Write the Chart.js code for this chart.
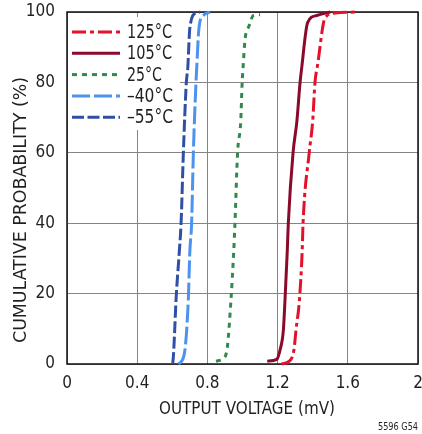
<!DOCTYPE html>
<html>
<head>
<meta charset="utf-8">
<script src="https://cdn.jsdelivr.net/npm/chart.js@4.4.1/dist/chart.umd.min.js"></script>
<style>
  html, body { margin: 0; padding: 0; background: #fff; }
  #wrap { position: relative; width: 422px; height: 434px; }
</style>
</head>
<body>
<div id="wrap"><canvas id="chart" width="422" height="434"></canvas></div>
<script>
// Кумулятивное распределение выходного напряжения по температурам
const seriesLabels = ['125°C', '105°C', '25°C', '–40°C', '–55°C'];
const seriesColors = ['#e5112b', '#8a0a2c', '#2f8a4c', '#4c92f0', '#3050a6'];
const seriesDashes = [[14, 4, 4, 4], [], [5, 5], [18, 4], [12, 3.5]];

// напряжение (мВ) и вероятность (%) для каждой кривой
const v125 = [1.223, 1.271, 1.293, 1.305, 1.324, 1.34, 1.345, 1.38, 1.40, 1.413, 1.428, 1.47, 1.527, 1.65];
const p125 = [0, 1, 4, 9.7, 18, 32, 40, 60, 69, 80, 85, 98.3, 99.7, 100];

const v105 = [1.141, 1.195, 1.214, 1.233, 1.242, 1.255, 1.261, 1.288, 1.31, 1.328, 1.337, 1.371, 1.423, 1.50];
const p105 = [0.8, 1.3, 4, 9.7, 18, 32, 40, 60, 69, 80, 84, 97, 99, 100];

const v25 = [0.849, 0.90, 0.915, 0.934, 0.95, 0.957, 0.972, 0.99, 0.998, 1.003, 1.014, 1.037, 1.062, 1.10];
const p25 = [0.8, 2, 5.4, 18, 32, 40, 60, 69, 80, 84, 92, 96, 99, 99.2];

const vM40 = [0.634, 0.667, 0.691, 0.70, 0.71, 0.72, 0.735, 0.739, 0.752, 0.777, 0.815];
const pM40 = [0, 2.5, 18, 32, 40, 60, 80, 84, 95.5, 99, 100];

const vM55 = [0.602, 0.606, 0.614, 0.621, 0.64, 0.65, 0.663, 0.68, 0.688, 0.70, 0.733, 0.758];
const pM55 = [0, 2, 10, 18, 32, 40, 60, 80, 84, 95.5, 99.7, 100];

const xTickLabels = ['0', '0.4', '0.8', '1.2', '1.6', '2'];
const yTickLabels = ['0', '20', '40', '60', '80', '100'];

const xTitle = 'OUTPUT VOLTAGE (mV)';
const yTitle = 'CUMULATIVE PROBABILITY (%)';
const footNote = '5596 G54';

const FONT = "'Liberation Sans Narrow', 'DejaVu Sans Condensed', 'Roboto Condensed', sans-serif";
const TEXT = '#231f20';

const toPoints = (vs, ps) => vs.map((v, i) => ({ x: v, y: ps[i] }));
const allV = [v125, v105, v25, vM40, vM55];
const allP = [p125, p105, p25, pM40, pM55];

const datasets = seriesLabels.map((label, i) => ({
  label,
  data: toPoints(allV[i], allP[i]),
  borderColor: seriesColors[i],
  backgroundColor: seriesColors[i],
  borderDash: seriesDashes[i],
  borderWidth: 3,
  pointRadius: 0,
  showLine: true,
  cubicInterpolationMode: 'monotone',
  clip: 6
}));

// текст, сжатый по ширине (в оригинале узкий шрифт)
function fitText(ctx, text, x, y, width, align) {
  const w = ctx.measureText(text).width;
  const k = width / w;
  ctx.save();
  ctx.translate(x, y);
  ctx.scale(k, 1);
  ctx.textAlign = align;
  ctx.fillText(text, 0, 0);
  ctx.restore();
}

// легенда, рамка и подписи осей — своим плагином
const decorPlugin = {
  id: 'decor',
  beforeDatasetsDraw(chart) {
    const { ctx, chartArea: a } = chart;
    ctx.save();
    // белая подложка легенды
    ctx.fillStyle = '#fff';
    ctx.fillRect(a.left + 1, 17, 112, 113);
    // рамка графика
    ctx.strokeStyle = '#111';
    ctx.lineWidth = 1.5;
    ctx.strokeRect(a.left, a.top, a.right - a.left, a.bottom - a.top);
    // легенда
    const widths = [45, 45, 35, 46, 46];
    chart.data.datasets.forEach((ds, i) => {
      const y = 32 + i * 21.3;
      ctx.beginPath();
      ctx.setLineDash(ds.borderDash);
      ctx.lineDashOffset = 0;
      ctx.strokeStyle = ds.borderColor;
      ctx.lineWidth = 3;
      ctx.moveTo(72, y);
      ctx.lineTo(120, y);
      ctx.stroke();
      ctx.setLineDash([]);
      ctx.fillStyle = TEXT;
      ctx.font = '19px ' + FONT;
      ctx.textBaseline = 'middle';
      fitText(ctx, ds.label, 127, y + 1, widths[i], 'left');
    });
    ctx.restore();
  },
  afterDraw(chart) {
    const { ctx, chartArea: a } = chart;
    ctx.save();
    ctx.fillStyle = TEXT;
    ctx.font = '18px ' + FONT;
    ctx.textBaseline = 'middle';
    fitText(ctx, xTitle, 247, 409, 176, 'center');
    ctx.translate(21, 210);
    ctx.rotate(-Math.PI / 2);
    fitText(ctx, yTitle, 0, 0, 266, 'center');
    ctx.restore();
    ctx.save();
    ctx.fillStyle = TEXT;
    ctx.font = '11px ' + FONT;
    ctx.textBaseline = 'alphabetic';
    fitText(ctx, footNote, a.right, 430, 40, 'right');
    ctx.restore();
  }
};

new Chart(document.getElementById('chart'), {
  type: 'scatter',
  data: { datasets },
  options: {
    responsive: false,
    animation: false,
    layout: { padding: { top: 12, right: 4, left: 0, bottom: 0 } },
    plugins: { legend: { display: false }, tooltip: { enabled: false } },
    scales: {
      x: {
        type: 'linear',
        min: 0,
        max: 2,
        afterFit(scale) {
          scale.height = 70;
          scale.paddingLeft = 0;
          scale.paddingRight = 0;
        },
        afterBuildTicks(scale) {
          scale.ticks = xTickLabels.map(t => ({ value: parseFloat(t) }));
        },
        grid: { color: '#858585', lineWidth: 1, drawTicks: false },
        border: { display: false },
        ticks: {
          padding: 9,
          color: TEXT,
          font: { family: FONT, size: 17 },
          maxRotation: 0,
          callback: (v, i) => xTickLabels[i]
        }
      },
      y: {
        type: 'linear',
        min: 0,
        max: 100,
        afterFit(scale) {
          scale.width = 67;
          scale.paddingTop = 0;
          scale.paddingBottom = 0;
        },
        afterBuildTicks(scale) {
          scale.ticks = yTickLabels.map(t => ({ value: parseFloat(t) }));
        },
        grid: { color: '#858585', lineWidth: 1, drawTicks: false },
        border: { display: false },
        ticks: {
          padding: 12,
          color: TEXT,
          font: { family: FONT, size: 17 },
          callback: (v, i) => yTickLabels[i]
        }
      }
    }
  },
  plugins: [decorPlugin]
});
</script>
</body>
</html>
